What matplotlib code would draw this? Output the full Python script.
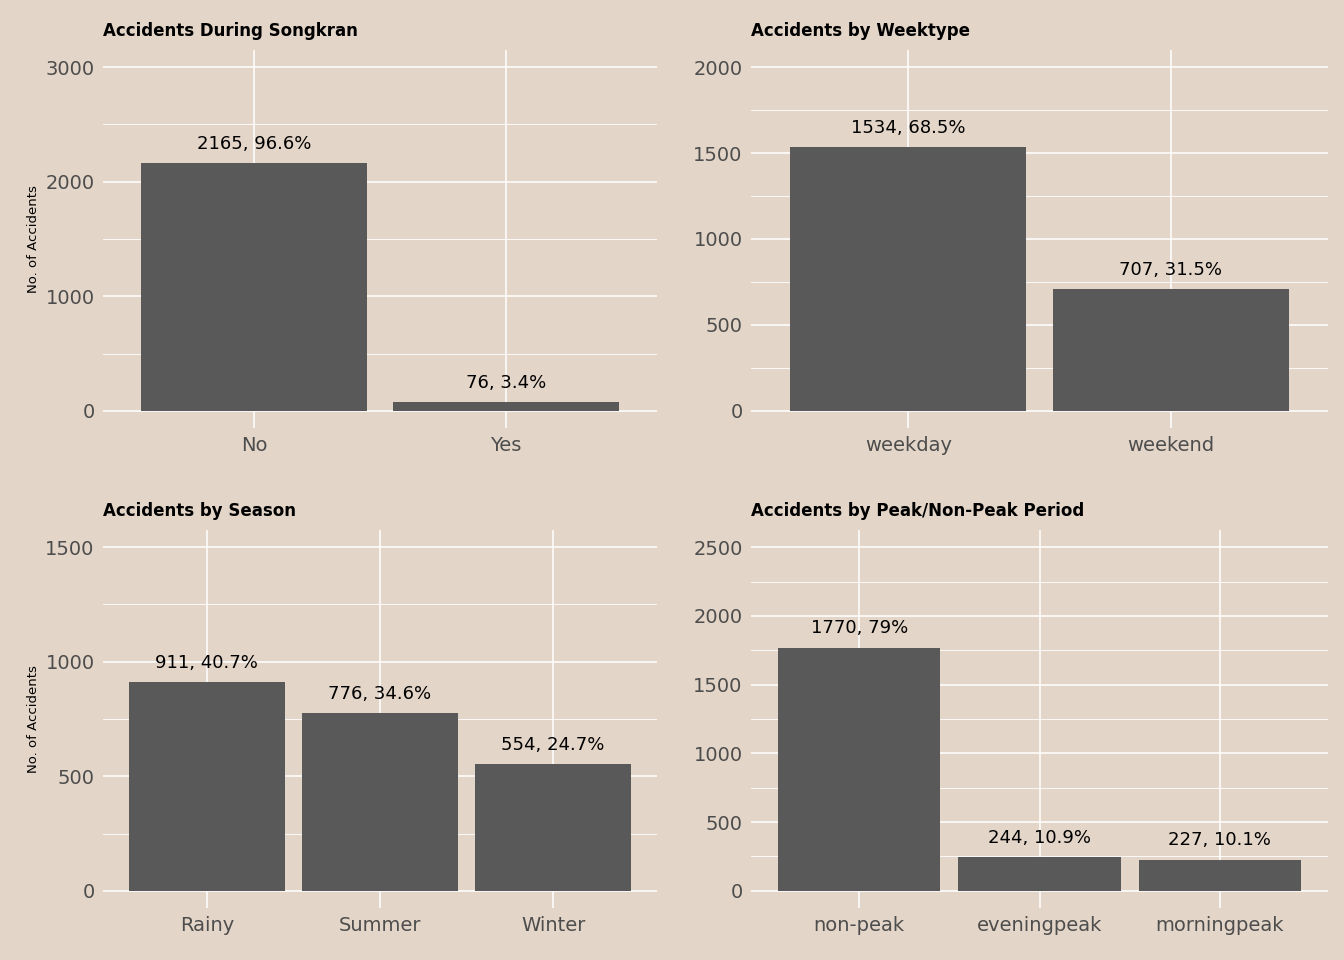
import matplotlib
matplotlib.use("Agg")
import matplotlib.pyplot as plt

songkran_cats = ["No", "Yes"]
songkran_vals = [2165, 76]
songkran_pct = ["96.6%", "3.4%"]
week_cats = ["weekday", "weekend"]
week_vals = [1534, 707]
week_pct = ["68.5%", "31.5%"]
season_cats = ["Rainy", "Summer", "Winter"]
season_vals = [911, 776, 554]
season_pct = ["40.7%", "34.6%", "24.7%"]
peak_cats = ["non-peak", "eveningpeak", "morningpeak"]
peak_vals = [1770, 244, 227]
peak_pct = ["79%", "10.9%", "10.1%"]

BG = "#E3D5C8"
W, H = 1344, 960
fig = plt.figure(figsize=(W/100, H/100), dpi=100, facecolor=BG)

def px_axes(x0, x1, ytop, ybot):
    return fig.add_axes([x0/W, 1-ybot/H, (x1-x0)/W, (ybot-ytop)/H])

panels = [
    (103, 657, 50, 428, songkran_cats, songkran_vals, songkran_pct, 3000, [0,1000,2000,3000], "Accidents During Songkran", True),
    (751, 1328, 50, 428, week_cats, week_vals, week_pct, 2000, [0,500,1000,1500,2000], "Accidents by Weektype", False),
    (103, 657, 530, 908, season_cats, season_vals, season_pct, 1500, [0,500,1000,1500], "Accidents by Season", True),
    (751, 1328, 530, 908, peak_cats, peak_vals, peak_pct, 2500, [0,500,1000,1500,2000,2500], "Accidents by Peak/Non-Peak Period", False),
]

for x0, x1, yt, yb, cats, vals, pct, ymax, ticks, title, ylab in panels:
    ax = px_axes(x0, x1, yt, yb)
    ax.set_facecolor(BG)
    n = len(cats)
    xs = list(range(1, n+1))
    ax.bar(xs, vals, width=0.9, color="#595959", zorder=2)
    for x, v, p in zip(xs, vals, pct):
        ax.text(x, v + ymax*0.03, f"{v}, {p}", ha="center", va="bottom", fontsize=13, color="black", zorder=3)
    ax.set_xlim(0.4, n+0.6)
    ax.set_ylim(-0.05*ymax, 1.05*ymax)
    ax.set_xticks(xs)
    ax.set_xticklabels(cats)
    ax.set_yticks(ticks)
    step = ticks[1]-ticks[0]
    ax.set_yticks([t + step/2 for t in ticks[:-1]], minor=True)
    ax.grid(True, which="major", color="white", linewidth=1.1, zorder=0)
    ax.grid(True, which="minor", axis="y", color="white", linewidth=0.6, zorder=0)
    ax.tick_params(which="both", length=0, labelsize=14, labelcolor="#4D4D4D", pad=6)
    for s in ax.spines.values():
        s.set_visible(False)
    ax.set_axisbelow(True)
    ax.set_title(title, loc="left", fontsize=12, fontweight="bold", pad=10)
    if ylab:
        ax.set_ylabel("No. of Accidents", fontsize=9.5)

fig.savefig("out.png", dpi=100, facecolor=BG)
